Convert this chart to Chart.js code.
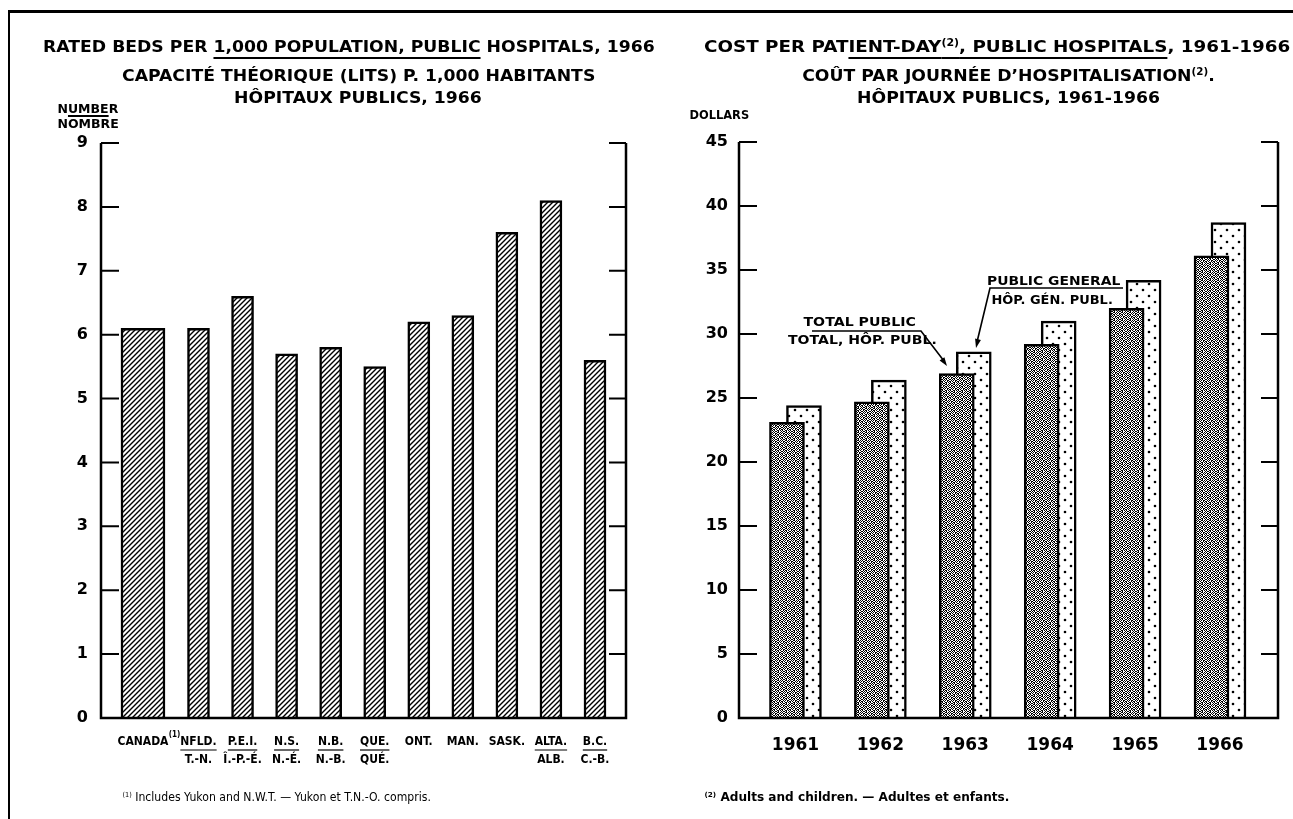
<!DOCTYPE html>
<html>
<head>
<meta charset="utf-8">
<script src="https://cdn.jsdelivr.net/npm/chart.js@4.4.0/dist/chart.umd.min.js"></script>
<style>
    body { margin: 0; background: #fff; width: 1293px; height: 819px; position: relative; overflow: hidden; font-family: "DejaVu Sans", sans-serif; color: #000; }
    canvas { position: absolute; }
    .txt { position: absolute; white-space: nowrap; transform-origin: center center; color: #000; }
    .txt u { text-decoration-thickness: 1.5px; text-underline-offset: 5px; }
    .sup { font-size: 60%; position: relative; top: -0.55em; }
    #frameTop { position: absolute; left: 8px; top: 10px; width: 1285px; height: 3px; background: #000; }
    #frameLeft { position: absolute; left: 8px; top: 10px; width: 2px; height: 809px; background: #000; }
    svg { position: absolute; left: 0; top: 0; }
</style>
</head>
<body>
<div id="frameTop"></div>
<div id="frameLeft"></div>
<canvas id="bedsChart" width="640" height="690" style="left:20px; top:120px;"></canvas>
<canvas id="costChart" width="633" height="690" style="left:660px; top:120px;"></canvas>
<svg width="1293" height="819">
    <g stroke="#000" stroke-width="1.6" fill="none">
        <polyline points="812,331 921,331 944,361"/>
        <polyline points="1123,288 990,288 977,342"/>
    </g>
    <g fill="#000">
        <polygon points="947,366 939.6,360.6 944.4,357.2"/>
        <polygon points="976,348 980.9,339.9 975.1,338.5"/>
    </g>
</svg>
<script>
// Rated beds per 1,000 population, 1966
var provinces = ['CANADA', 'NFLD.', 'P.E.I.', 'N.S.', 'N.B.', 'QUE.', 'ONT.', 'MAN.', 'SASK.', 'ALTA.', 'B.C.'];
var provincesFr = ['', 'T.-N.', 'Î.-P.-É.', 'N.-É.', 'N.-B.', 'QUÉ.', '', '', '', 'ALB.', 'C.-B.'];
var bedsPerThousand = [6.1, 6.1, 6.6, 5.7, 5.8, 5.5, 6.2, 6.3, 7.6, 8.1, 5.6];

// Cost per patient-day, 1961-1966 (dollars)
var years = ['1961', '1962', '1963', '1964', '1965', '1966'];
var costTotalPublic = [23.1, 24.7, 26.9, 29.2, 32.0, 36.1];
var costPublicGeneral = [24.4, 26.4, 28.6, 31.0, 34.2, 38.7];

Chart.defaults.font.family = '"DejaVu Sans", sans-serif';
Chart.defaults.color = '#000';

function makePattern(size, draw) {
    var c = document.createElement('canvas');
    c.width = size;
    c.height = size;
    var g = c.getContext('2d');
    g.fillStyle = '#fff';
    g.fillRect(0, 0, size, size);
    draw(g);
    return c.getContext('2d').createPattern(c, 'repeat');
}

var hatch = makePattern(5, function (g) {
    g.strokeStyle = '#000';
    g.lineWidth = 1.4;
    g.beginPath();
    g.moveTo(-1, 6); g.lineTo(6, -1);
    g.moveTo(-1, 1); g.lineTo(1, -1);
    g.moveTo(4, 6); g.lineTo(6, 4);
    g.stroke();
});

// grey halftone for the total-public bars
var stipple = makePattern(8, function (g) {
    var rows = ['10100110', '01011001', '10010110', '01101010', '10010101', '01101001', '10100110', '01011010'];
    g.fillStyle = '#000';
    rows.forEach(function (r, y) {
        for (var x = 0; x < r.length; x++) {
            if (r[x] === '1') g.fillRect(x, y, 1, 1);
        }
    });
});

var dots = makePattern(12, function (g) {
    g.fillStyle = '#000';
    g.beginPath(); g.arc(3, 2, 1.3, 0, Math.PI * 2); g.fill();
    g.beginPath(); g.arc(9, 8, 1.3, 0, Math.PI * 2); g.fill();
});

// frame with inward ticks on both sides
var framePlugin = {
    id: 'frame',
    afterDraw: function (chart) {
        var ctx = chart.ctx, a = chart.chartArea, y = chart.scales.y;
        ctx.save();
        ctx.strokeStyle = '#000';
        ctx.lineWidth = 2.5;
        ctx.beginPath();
        ctx.moveTo(a.left, a.top);
        ctx.lineTo(a.left, a.bottom);
        ctx.lineTo(a.right, a.bottom);
        ctx.lineTo(a.right, a.top);
        ctx.stroke();
        ctx.lineWidth = 2;
        y.ticks.forEach(function (t) {
            var py = y.getPixelForValue(t.value);
            ctx.beginPath();
            ctx.moveTo(a.left, py); ctx.lineTo(a.left + 18, py);
            ctx.moveTo(a.right - 17, py); ctx.lineTo(a.right, py);
            ctx.stroke();
        });
        ctx.restore();
    }
};

var labelFont = '"DejaVu Sans Condensed", "DejaVu Sans", sans-serif';

var provinceLabels = {
    id: 'provinceLabels',
    afterDraw: function (chart) {
        var ctx = chart.ctx;
        var base = 622;
        ctx.save();
        ctx.fillStyle = '#000';
        ctx.strokeStyle = '#000';
        ctx.lineWidth = 1.2;
        ctx.textAlign = 'center';
        ctx.textBaseline = 'middle';
        provinces.forEach(function (name, i) {
            var el = i === 0 ? chart.getDatasetMeta(0).data[0] : chart.getDatasetMeta(1).data[i - 1];
            var cx = el.x;
            ctx.font = 'bold 12px ' + labelFont;
            if (i === 0) {
                var w = ctx.measureText(name).width;
                ctx.fillText(name, cx, base);
                ctx.font = 'bold 8px ' + labelFont;
                ctx.fillText('(1)', cx + w / 2 + 6, base - 7);
                return;
            }
            ctx.fillText(name, cx, base);
            if (provincesFr[i]) {
                var uw = ctx.measureText(name).width;
                ctx.beginPath();
                ctx.moveTo(cx - uw / 2, base + 8);
                ctx.lineTo(cx + uw / 2, base + 8);
                ctx.stroke();
                ctx.fillText(provincesFr[i], cx, base + 18);
            }
        });
        ctx.restore();
    }
};

var yearLabels = {
    id: 'yearLabels',
    afterDraw: function (chart) {
        var ctx = chart.ctx;
        var dark = chart.getDatasetMeta(0).data, light = chart.getDatasetMeta(1).data;
        ctx.save();
        ctx.fillStyle = '#000';
        ctx.textAlign = 'center';
        ctx.textBaseline = 'middle';
        ctx.font = 'bold 17px "DejaVu Sans", sans-serif';
        years.forEach(function (yr, i) {
            var left = dark[i].x - dark[i].width / 2;
            var right = light[i].x + light[i].width / 2;
            ctx.fillText(yr, (left + right) / 2, 626);
        });
        ctx.restore();
    }
};

function yAxis(max, step, width, pad) {
    return {
        min: 0,
        max: max,
        ticks: { stepSize: step, padding: pad, font: { size: 16, weight: 'bold' }, color: '#000' },
        grid: { display: false, drawTicks: false },
        border: { display: false },
        afterFit: function (scale) { scale.width = width; }
    };
}

function hiddenX(min, max) {
    return { type: 'linear', min: min, max: max, offset: false, display: false };
}

function barSet(points, axis, thickness, fill) {
    return {
        data: points,
        xAxisID: axis,
        grouped: false,
        barThickness: thickness,
        maxBarThickness: thickness,
        backgroundColor: fill,
        borderColor: '#000',
        borderWidth: 2.5
    };
}

new Chart(document.getElementById('bedsChart'), {
    type: 'bar',
    data: {
        datasets: [
            barSet([{ x: 0, y: bedsPerThousand[0] }], 'x2', 44, hatch),
            barSet(bedsPerThousand.slice(1).map(function (v, k) { return { x: k + 1, y: v }; }), 'x', 22, hatch)
        ]
    },
    options: {
        responsive: false,
        animation: false,
        devicePixelRatio: 1,
        layout: { padding: { left: 0, right: 34, top: 23, bottom: 92 } },
        plugins: { legend: { display: false }, tooltip: { enabled: false } },
        scales: {
            x: hiddenX(-1.213, 10.704),
            x2: hiddenX(-0.953, 10.964),
            y: yAxis(9, 1, 81, 13)
        }
    },
    plugins: [framePlugin, provinceLabels]
});

new Chart(document.getElementById('costChart'), {
    type: 'bar',
    data: {
        datasets: [
            barSet(costTotalPublic.map(function (v, i) { return { x: i, y: v }; }), 'x', 35, stipple),
            barSet(costPublicGeneral.map(function (v, i) { return { x: i, y: v }; }), 'x2', 35, dots)
        ]
    },
    options: {
        responsive: false,
        animation: false,
        devicePixelRatio: 1,
        layout: { padding: { left: 0, right: 15, top: 22, bottom: 92 } },
        plugins: { legend: { display: false }, tooltip: { enabled: false } },
        scales: {
            x: hiddenX(-0.565, 5.783),
            x2: hiddenX(-0.765, 5.583),
            y: yAxis(45, 5, 79, 11)
        }
    },
    plugins: [framePlugin, yearLabels]
});

// titles, notes and labels as text
function placeText(html, cx, cy, size, fit, weight) {
    var el = document.createElement('div');
    el.className = 'txt';
    el.innerHTML = html;
    el.style.fontSize = size + 'px';
    el.style.fontWeight = weight || 'bold';
    document.body.appendChild(el);
    var w = el.offsetWidth, h = el.offsetHeight;
    var sx = fit && fit.w ? fit.w / w : (fit && fit.sx ? fit.sx : 1);
    el.style.left = (cx - w / 2) + 'px';
    el.style.top = (cy - h / 2) + 'px';
    el.style.transform = 'scaleX(' + sx + ')';
    return sx;
}

var s1 = placeText('RATED BEDS PER <u>1,000 POPULATION, PUBLIC</u> HOSPITALS, 1966', 349, 46, 16, { w: 612 });
placeText('COST PER PAT<u>IENT-DAY<span class="sup">(2)</span>, PUBLIC HOSPITALS</u>, 1961-1966', 997, 46, 16, { w: 586 });
placeText('CAPACITÉ THÉORIQUE (LITS) P. 1,000 HABITANTS', 358, 75, 16, { sx: s1 });
placeText('HÔPITAUX PUBLICS, 1966', 358, 97, 16, { sx: s1 });
placeText('COÛT PAR JOURNÉE D\u2019HOSPITALISATION<span class="sup">(2)</span>.', 1008, 75, 16, { sx: s1 });
placeText('HÔPITAUX PUBLICS, 1961-1966', 1008, 97, 16, { sx: s1 });

placeText('N<u style="text-underline-offset:2px">UMBE</u>R', 88, 108, 12.5);
placeText('NOMBRE', 88, 123, 12.5);
placeText('DOLLARS', 719, 115, 12, { w: 60 });

placeText('TOTAL PUBLIC', 859, 322, 12, { w: 112 });
placeText('TOTAL, HÔP. PUBL.', 862, 340, 12, { w: 149 });
placeText('PUBLIC GENERAL', 1053, 281, 12, { w: 133 });
placeText('HÔP. GÉN. PUBL.', 1052, 300, 12, { w: 121 });

placeText('<span class="sup">(1)</span> Includes Yukon and N.W.T. \u2014 Yukon et T.N.-O. compris.', 276, 797, 11.5, { w: 308 }, 'normal');
placeText('<span class="sup">(2)</span> Adults and children. \u2014 Adultes et enfants.', 857, 797, 11.5, { w: 305 }, 'bold');
</script>
</body>
</html>
